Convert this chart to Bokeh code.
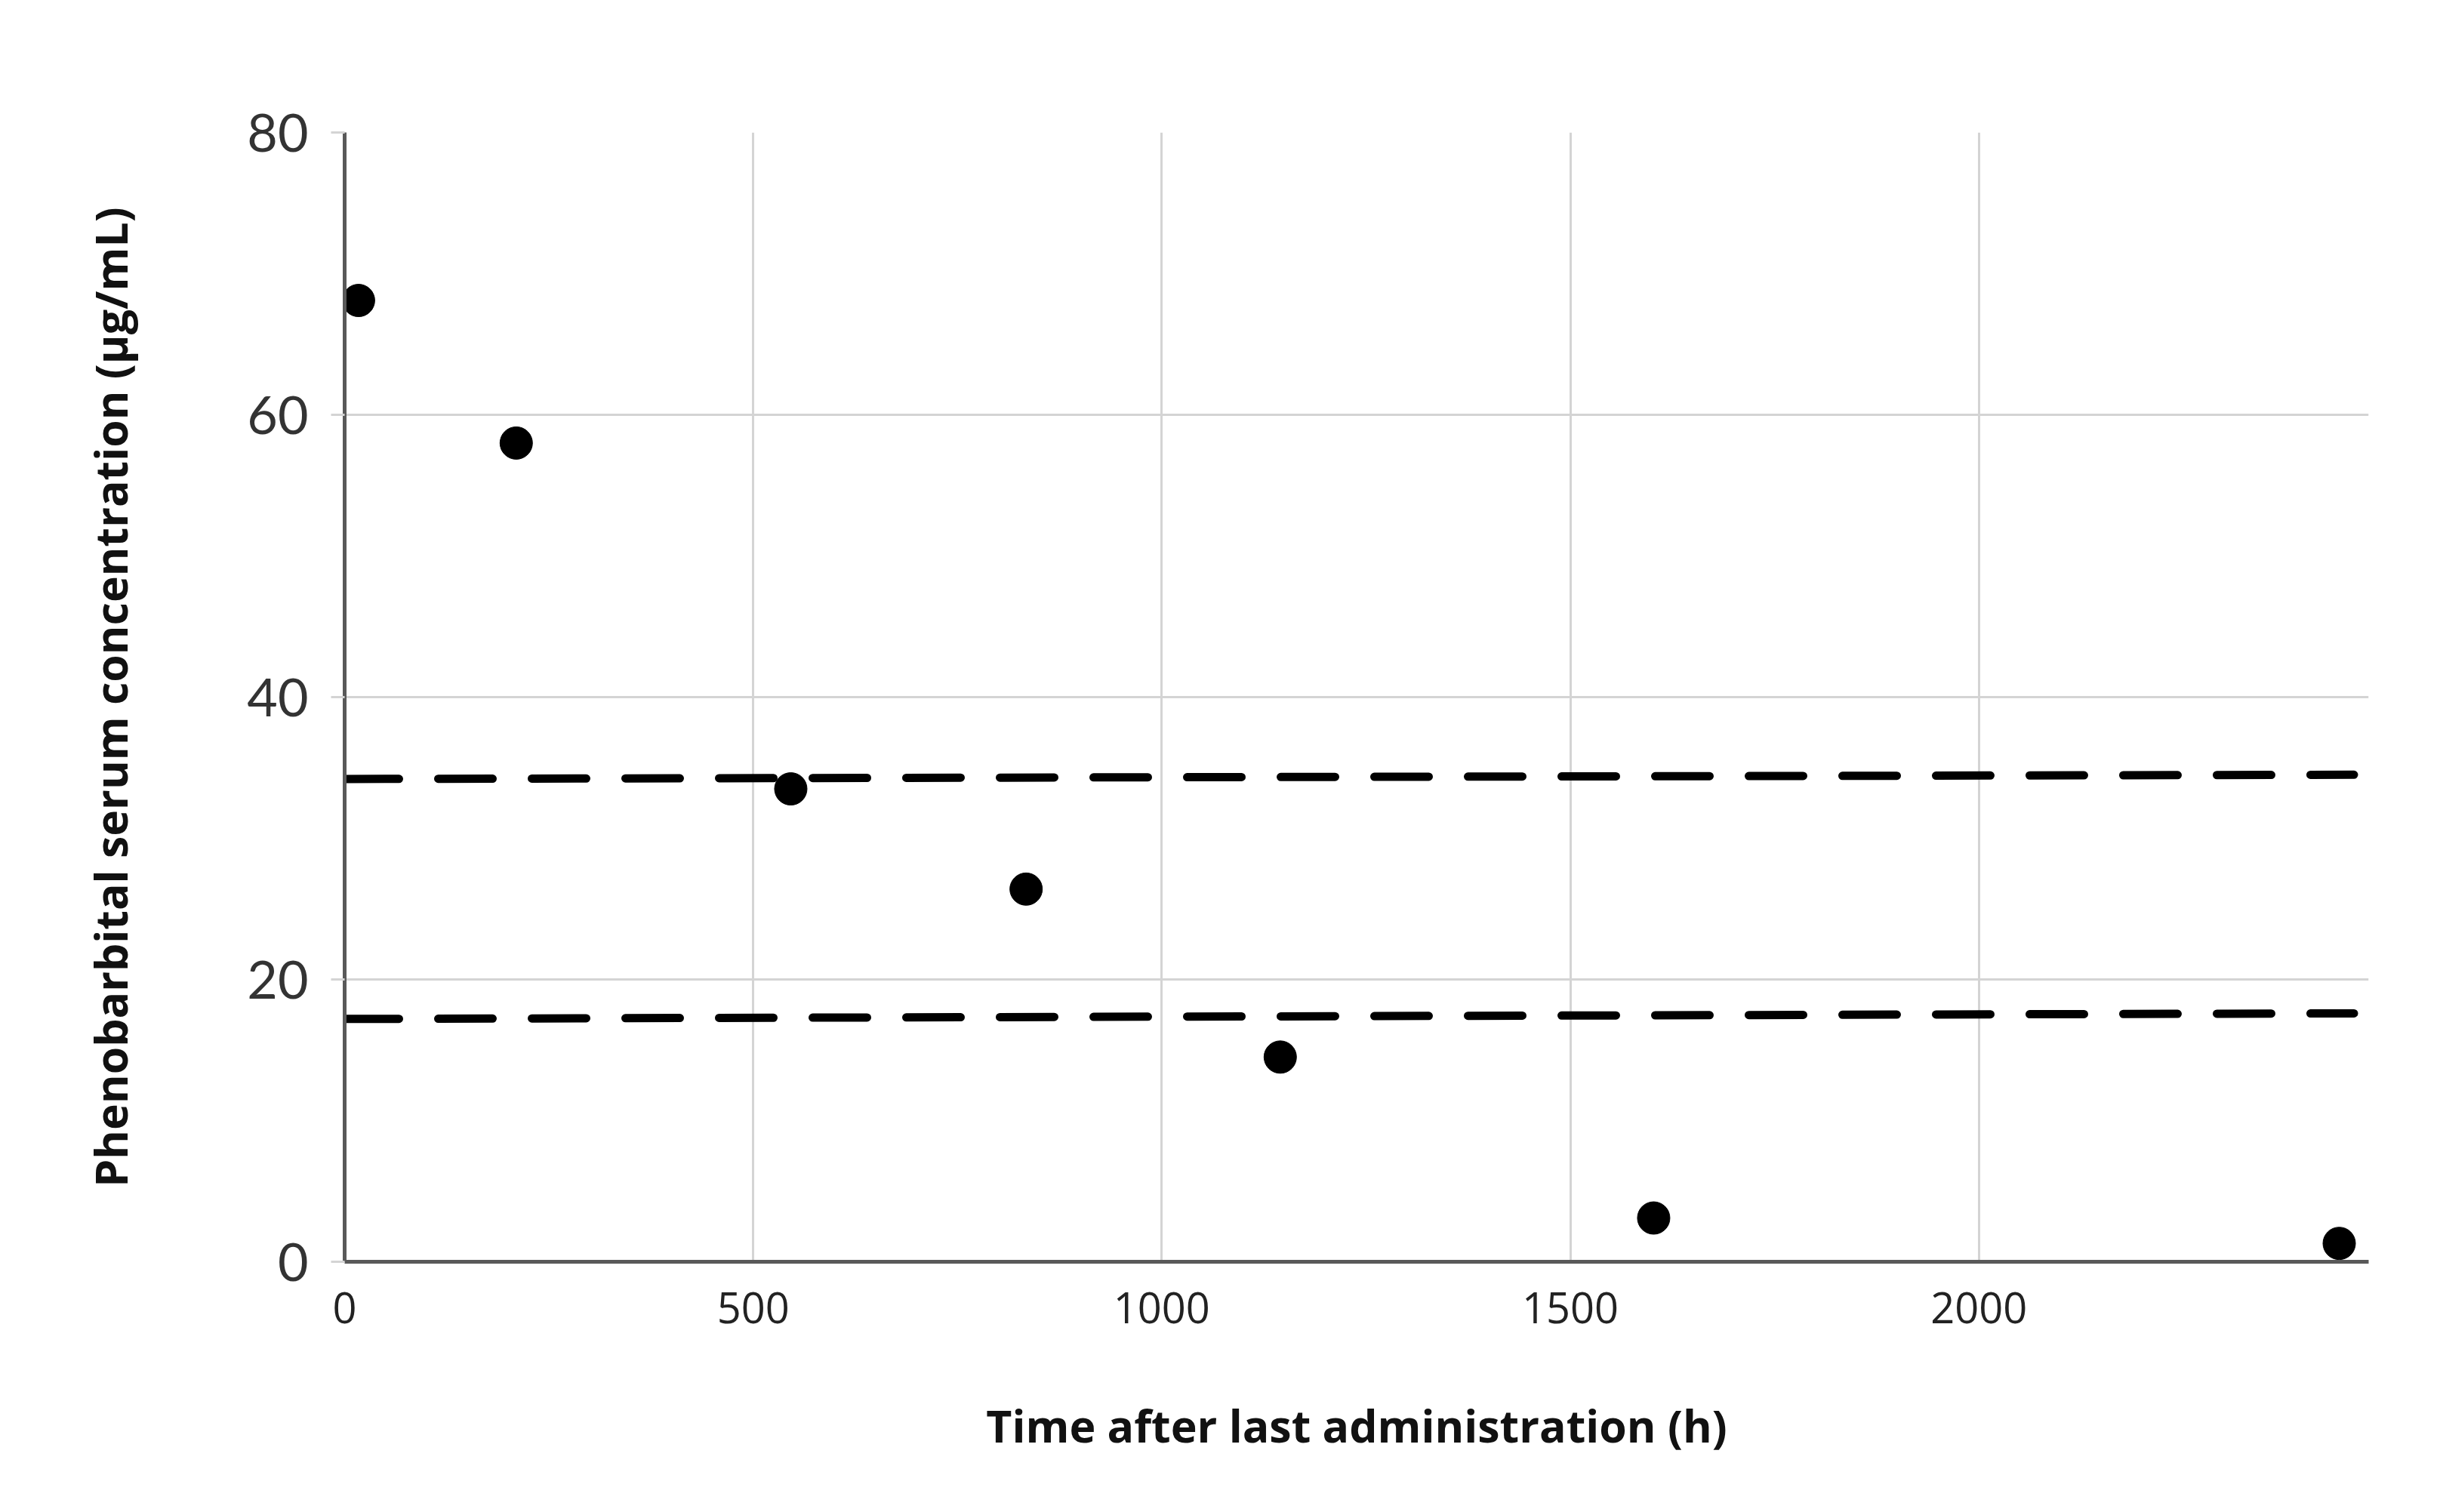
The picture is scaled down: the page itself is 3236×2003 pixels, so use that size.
from bokeh.plotting import figure
from bokeh.models import Range1d, FixedTicker
from bokeh.embed import file_html
from bokeh.resources import INLINE

# data
time_h = [17, 210, 546, 834, 1145, 1602, 2441]
conc = [68.1, 58.0, 33.5, 26.4, 14.5, 3.1, 1.3]
upper_x = [0, 2459]
upper_y = [34.2, 34.5]
lower_x = [0, 2459]
lower_y = [17.2, 17.6]
x_ticks = [0, 500, 1000, 1500, 2000]
y_ticks = [0, 20, 40, 60, 80]

COND = "'Liberation Sans Narrow', 'Open Sans', sans-serif"

p = figure(width=3220, height=1987, output_backend="svg", toolbar_location=None,
           x_range=Range1d(0, 2477), y_range=Range1d(0, 80),
           min_border_left=456, min_border_right=83, min_border_top=175, min_border_bottom=316)
p.outline_line_color = None
p.background_fill_color = "white"

p.xgrid.ticker = FixedTicker(ticks=x_ticks)
p.ygrid.ticker = FixedTicker(ticks=y_ticks)
p.grid.grid_line_color = "#d4d4d4"
p.grid.grid_line_width = 3

p.xaxis.ticker = FixedTicker(ticks=x_ticks)
p.yaxis.ticker = FixedTicker(ticks=y_ticks)
p.xaxis.minor_tick_line_color = None
p.yaxis.minor_tick_line_color = None
p.axis.axis_line_color = "#595959"
p.axis.axis_line_width = 5
p.xaxis.major_tick_line_color = None
p.xaxis.major_tick_out = 0
p.xaxis.major_tick_in = 0
p.yaxis.major_tick_line_color = "#d4d4d4"
p.yaxis.major_tick_line_width = 3
p.yaxis.major_tick_out = 18
p.yaxis.major_tick_in = 0

p.xaxis.major_label_text_font = COND
p.xaxis.major_label_text_font_size = "56px"
p.xaxis.major_label_text_color = "#222222"
p.xaxis.major_label_standoff = 40

p.yaxis.major_label_text_font = "Lato"
p.yaxis.major_label_text_font_size = "70px"
p.yaxis.major_label_text_color = "#333333"
p.yaxis.major_label_standoff = 30

p.xaxis.axis_label = "Time after last administration (h)"
p.yaxis.axis_label = "Phenobarbital serum concentration (µg/mL)"
p.axis.axis_label_text_font = COND
p.axis.axis_label_text_font_style = "bold"
p.axis.axis_label_text_font_size = "59px"
p.axis.axis_label_text_color = "#111111"
p.xaxis.axis_label_standoff = 92
p.yaxis.axis_label_standoff = 138

p.line(upper_x, upper_y, line_color="black", line_width=11, line_dash="72 52", line_cap="round")
p.line(lower_x, lower_y, line_color="black", line_width=11, line_dash="72 52", line_cap="round")
p.scatter(time_h, conc, size=43, marker="circle", fill_color="black", line_color="black")

open("out.html", "w").write(file_html(p, INLINE))
